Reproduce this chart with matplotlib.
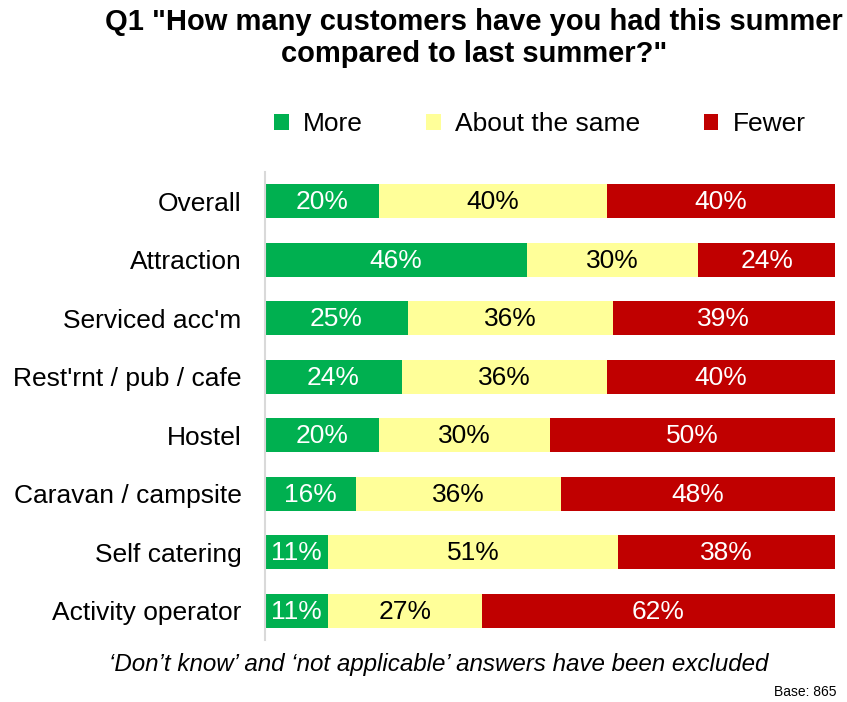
import matplotlib.pyplot as plt
from matplotlib.patches import Patch

categories = ["Overall", "Attraction", "Serviced acc'm", "Rest'rnt / pub / cafe",
              "Hostel", "Caravan / campsite", "Self catering", "Activity operator"]
more = [20, 46, 25, 24, 20, 16, 11, 11]
same = [40, 30, 36, 36, 30, 36, 51, 27]
fewer = [40, 24, 39, 40, 50, 48, 38, 62]
series_names = ["More", "About the same", "Fewer"]

colors = ["#00B050", "#FFFF99", "#C00000"]
text_colors = ["white", "black", "white"]

plt.rcParams['font.family'] = ['Liberation Sans', 'DejaVu Sans']

fig = plt.figure(figsize=(8.47, 7.02), dpi=100)
ax = fig.add_axes([265 / 847, 1 - 640 / 702, 570 / 847, 468 / 702])

y = list(range(len(categories)))
left = [0] * len(categories)
for vals, col, tcol in zip([more, same, fewer], colors, text_colors):
    bars = ax.barh(y, vals, left=left, height=0.58, color=col, edgecolor='none')
    for b, v in zip(bars, vals):
        ax.text(b.get_x() + b.get_width() / 2, b.get_y() + b.get_height() / 2 + 0.02,
                f"{v}%", ha='center', va='center', color=tcol, fontsize=19)
    left = [l + v for l, v in zip(left, vals)]

ax.set_xlim(0, 100)
ax.set_ylim(len(categories) - 0.5, -0.5)
ax.set_yticks(y)
ax.set_yticklabels(categories, fontsize=19)
ax.tick_params(axis='y', length=0, pad=17)
ax.set_xticks([])
for s in ['top', 'right', 'bottom']:
    ax.spines[s].set_visible(False)
ax.spines['left'].set_color('#D9D9D9')
ax.spines['left'].set_linewidth(1.5)

fig.text(474 / 847, 1 - 8 / 702, 'Q1 "How many customers have you had this summer\ncompared to last summer?"',
         ha='center', va='top', fontsize=21, fontweight='bold', linespacing=1.2)

handles = [Patch(facecolor=c, edgecolor='none') for c in colors]
fig.legend(handles, series_names, loc='center', bbox_to_anchor=(540 / 847, 1 - 124 / 702),
           ncol=3, frameon=False, fontsize=19, handlelength=0.55, handleheight=0.55,
           handletextpad=0.55, columnspacing=2.4, borderpad=0, borderaxespad=0)

fig.text(439 / 847, 1 - 665 / 702,
         "\u2018Don\u2019t know\u2019 and \u2018not applicable\u2019 answers have been excluded",
         ha='center', va='center', fontsize=17.4, style='italic')
fig.text(836 / 847, 1 - 692 / 702, "Base: 865", ha='right', va='center', fontsize=10)

fig.savefig("out.png", dpi=100)
